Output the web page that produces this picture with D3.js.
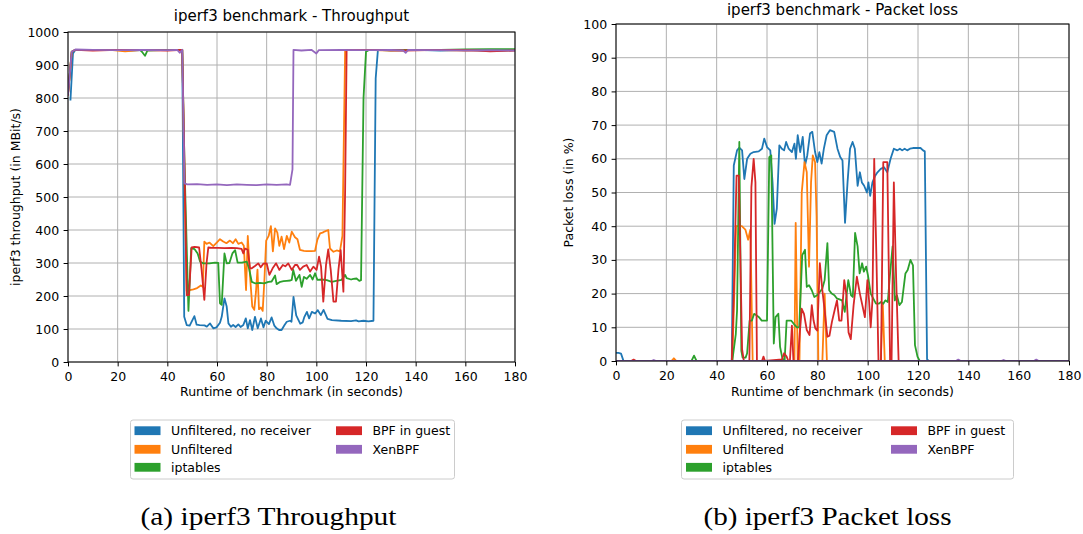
<!DOCTYPE html>
<html><head><meta charset="utf-8">
<script src="https://cdn.jsdelivr.net/npm/d3@7"></script>
<style>
body{margin:0;background:#fff}
svg{display:block}
text{font-family:"DejaVu Sans",sans-serif;fill:#000}
</style>
</head><body>
<svg id="chart" width="1083" height="534"></svg>
<script>
// ---------- data ----------
const seriesNames = ["Unfiltered, no receiver", "Unfiltered", "iptables", "BPF in guest", "XenBPF"];
const seriesColors = ["#1f77b4", "#ff7f0e", "#2ca02c", "#d62728", "#9467bd"];
const xTicks = [0, 20, 40, 60, 80, 100, 120, 140, 160, 180];
const tputTicks = [0, 100, 200, 300, 400, 500, 600, 700, 800, 900, 1000];
const lossTicks = [0, 10, 20, 30, 40, 50, 60, 70, 80, 90, 100];

// Throughput (MBit/s), [seconds, value]
const tputNoRecv = [[1,795],[2,935],[3,946],[10,945],[18,946],[25,944],[33,946],[40,945],[46,946],[46.8,137],[47.8,112],[49,110],[50.9,139],[51.8,113],[53,112],[55,111],[55.9,107],[57.2,117],[58.5,102],[59.8,105],[61.2,119],[61.9,137],[63,193],[63.9,168],[64.6,117],[65.6,107],[66.5,112],[67.5,106],[68.6,114],[69.5,106],[70.6,112],[71.6,132],[72.4,102],[73.3,127],[74.2,97],[75.3,137],[76.4,102],[77.7,132],[78.7,105],[79.6,125],[80.9,115],[82,135],[83.1,110],[84,102],[85,97],[86,97],[87.2,112],[88.1,122],[89.4,125],[90,122],[90.8,197],[91.9,141],[93.5,116],[94.5,120],[95.2,137],[96.2,152],[97.1,132],[98.2,152],[99.5,147],[100.6,157],[101.8,142],[102.9,158],[104.5,131],[106.3,127],[110,125],[114,124],[116,126],[117,123],[119,125],[121,123],[123,125],[123.9,860],[124.8,946],[130,944],[140,946],[150,944],[160,946],[170,943],[180,945]];
const tputUnfiltered = [[0,812],[1.5,940],[3,946],[10,945],[17,946],[23,941],[30,946],[38,945],[46,946],[46.9,560],[47.8,215],[49,218],[50.5,220],[52,224],[53.5,232],[54.3,228],[54.9,365],[55.8,358],[57,362],[58.5,351],[59.9,362],[61.2,372],[62.5,365],[63.8,360],[65.2,368],[66.4,360],[67.5,372],[68.6,358],[69.9,362],[70.8,352],[71.7,218],[72.4,382],[73.3,260],[74.2,168],[75,158],[75.7,213],[76.3,280],[76.9,160],[77.7,165],[78.4,155],[79.1,250],[79.8,368],[80.8,382],[81.7,412],[82.5,335],[83.4,405],[84.3,392],[85.1,352],[86,380],[87,342],[88.1,382],[89.1,362],[90.1,395],[91.4,378],[92.4,372],[93.4,340],[95,337],[96.1,336],[98,336],[99.5,337],[100.4,370],[101.5,390],[102.5,392],[103.5,396],[104.8,400],[105.5,344],[106.9,334],[108.2,338],[109.5,335],[110.5,382],[111.6,946],[113,945],[120,946],[130,944],[140,946],[150,945],[160,944],[170,946],[180,945]];
const tputIptables = [[0,812],[1.5,940],[3,946],[10,945],[20,946],[29,946],[30,938],[31,928],[32,944],[40,946],[46,946],[46.9,600],[48.5,155],[49.6,345],[51,342],[52.2,329],[53.2,304],[54.5,299],[57,299],[59.2,301],[60.5,300],[61.2,178],[61.9,173],[63,329],[63.9,299],[65,300],[66.2,329],[67.3,339],[68.3,301],[70,301],[72,304],[72.9,284],[74,243],[75.5,238],[77.3,240],[79,238],[80.7,243],[82,244],[83.4,262],[84,236],[85.5,243],[86.8,245],[88.1,246],[89.5,247],[90.1,249],[90.7,279],[91.8,246],[93.2,264],[94.1,228],[95,258],[96.1,252],[97.5,264],[98.5,250],[99.5,269],[100.4,249],[102.2,250],[104.2,248],[106.2,243],[108,246],[110.2,249],[111.6,264],[112.2,254],[114,250],[114.9,252],[116.2,253],[117.3,246],[118,248],[119,800],[120,940],[121,945],[130,946],[140,945],[150,946],[160,947],[170,948],[180,948]];
const tputBpfGuest = [[0,810],[1.5,940],[3,946],[10,944],[20,946],[30,945],[40,944],[46,946],[46.9,600],[47.8,203],[48.7,203],[49.8,347],[51,349],[52.8,347],[53.8,279],[54.9,188],[55.8,300],[56.5,347],[58,346],[60.5,346],[63,345],[65.9,346],[68,345],[69.9,343],[70.6,329],[71.3,344],[72.4,340],[73.3,284],[74,284],[75.3,291],[76.6,299],[77.6,287],[78.7,298],[80,299],[81.1,264],[82.4,284],[83.8,299],[85.1,279],[86.5,294],[87.5,290],[88.7,299],[90.1,279],[91.4,294],[92.3,294],[93.4,279],[94.7,289],[96.1,294],[97.5,274],[98.8,289],[100.1,279],[101.1,319],[101.9,289],[102.8,183],[103.9,294],[104.8,341],[105.8,279],[106.9,183],[107.9,183],[108.9,279],[109.8,339],[110.9,213],[111.6,521],[112.2,946],[115,945],[125,946],[135,944],[145,945],[155,946],[165,944],[170,941],[180,944]];
const tputXenBpf = [[0,812],[1.5,940],[3,947],[10,946],[20,945],[30,946],[40,945],[44,946],[45,937],[46,946],[46.9,541],[48,538],[52,539],[56,537],[60,538],[64,536],[68,538],[72,537],[76,536],[80,538],[84,537],[88,538],[89.4,537],[90.4,584],[90.8,946],[94,944],[98,946],[100,935],[101,945],[110,946],[120,945],[130,946],[135,944],[136,937],[137,946],[150,945],[160,944],[170,945],[180,944]];

// Packet loss (%), [seconds, value]
const lossNoRecv = [[0,2.4],[1,2.4],[2,2.2],[3,0],[46,0],[46.8,58],[48.1,62.5],[49,63.3],[50.1,62.5],[51,54],[52.1,60],[53.4,61.5],[54.7,62],[56.7,62.2],[58,63],[58.9,66],[60,63.5],[61.3,62.5],[62.2,53],[63,40.7],[63.9,45.2],[64.9,64],[65.9,63],[66.8,62.5],[67.6,65],[68.6,63],[69.9,62],[70.9,64.5],[71.5,60],[72.2,67],[73.2,62],[74.2,66.5],[75.1,58],[76,61],[77.1,67.5],[78,68],[79.1,62],[80,59],[80.8,62],[81.7,58.6],[82.6,63],[83.7,67],[85,68.5],[86.7,68],[88,63],[89.1,60.5],[90,59.5],[91,41],[92,53],[93,63],[94,65],[94.9,63],[96,52],[96.9,56],[97.7,53],[98.6,52],[99.7,50],[100.3,53],[101,49],[101.9,53],[103,55],[103.9,56],[105.2,57],[106.5,57.5],[107.8,56],[109.1,60],[110.4,63],[111.8,62.5],[112.8,63],[113.7,62.5],[114.7,63],[115.7,62.5],[116.8,63],[118,63.2],[121,63.2],[122,62.5],[122.7,62.2],[123.6,0.5],[124.3,0],[180,0]];
const lossUnfiltered = [[0,0],[22,0],[23,0.8],[24,0],[46.2,0],[47,20],[47.7,40],[50,40],[51.4,39],[52.5,36],[53.4,39],[54.3,0],[70.9,0],[71.4,41],[72.2,0],[72.9,0],[73.8,50],[74.9,59],[75.8,56],[76.7,28],[77.5,53],[78.2,61],[79.1,59],[79.7,43],[80.4,0],[82,0],[82.9,20],[83.8,0],[105.2,0],[106,17],[106.8,0],[180,0]];
const lossIptables = [[0,0],[30,0],[31,1.6],[32,0],[46.2,0],[47.6,8],[48.1,15],[49,65],[49.8,3],[50.3,1],[51.5,1],[52.1,2.3],[53.1,12],[54,12],[54.9,14],[55.8,13.6],[56.8,13],[57.9,12],[60,12],[60.9,60.5],[61.7,61],[62.7,5.2],[63.4,13],[64.5,14],[65.2,4.2],[66.1,0.8],[67,0],[67.8,12],[69.6,12],[71,10.7],[71.9,10],[72.8,10],[74,31.4],[75.1,33],[75.8,22],[76.7,22.5],[77.8,21],[78.8,19],[79.9,19.5],[81,20.5],[82,21.5],[82.9,24],[84,35],[84.7,21],[85.7,20],[86.8,19.5],[87.7,18.6],[88.8,18.3],[89.8,18],[90.9,14.6],[91.6,19.5],[92.3,24],[93.4,19.5],[94.1,19],[95,38],[96,34],[96.8,26],[97.8,29],[98.5,26.5],[99.4,28],[100.1,25.5],[101.2,20],[102.2,18.6],[103.3,17],[104.4,17],[105.3,17.5],[106.2,17],[107,18],[108,17.5],[108.8,25],[109.9,34],[110.8,18],[111.6,19.5],[112.6,16.6],[113.6,17.5],[115,26],[115.9,27],[117,30],[118,28.4],[118.8,4.7],[119.8,1.3],[120.7,0],[180,0]];
const lossBpfGuest = [[0,0],[6,0],[7,0.4],[8,0],[46,0],[46.8,20],[47.9,55],[48.8,55],[50.1,3.5],[50.8,0],[53,0],[53.8,51.6],[54.7,60],[55.4,53],[56,0],[58,0],[58.6,1.3],[59.2,0],[66,0.5],[66.8,2.3],[67.8,1.3],[68.5,0],[69.1,0],[69.9,10.5],[70.5,0],[72.3,0],[73,8],[73.8,15.5],[74.7,14],[75.8,9.2],[76.9,7.7],[77.8,16.6],[78.5,12],[79.2,9.7],[80,9],[81,29],[82,21],[82.9,15],[84,7.2],[84.8,7.5],[85.8,11.6],[87,15.5],[87.8,18],[88.7,12],[89.6,12],[90.7,24],[91.6,19.4],[92.4,8.5],[93.3,6.5],[94.4,16.5],[95.7,25],[96.9,20],[97.9,16.5],[98.9,13],[99.9,24],[100.6,17.5],[101.2,10],[101.9,18],[102.6,60],[103.5,30],[104.3,0],[105.3,0],[106.2,59],[107.8,59],[108.9,0],[109.5,0],[110.4,53],[111.3,25],[112.3,0],[180,0]];
const lossXenBpf = [[0,0],[14,0],[15,0.3],[16,0],[135,0],[136,0.4],[137,0],[153,0],[154,0.3],[155,0],[166,0],[167,0.4],[168,0],[180,0]];

// ---------- drawing ----------
const svg = d3.select("#chart");

function drawPanel(cfg) {
  const x = d3.scaleLinear().domain([0, 180]).range([cfg.x0, cfg.x1]);
  const y = d3.scaleLinear().domain([0, cfg.yMax]).range([cfg.y0, cfg.y1]);
  const g = svg.append("g");
  const clipId = "clip" + cfg.id;
  svg.append("clipPath").attr("id", clipId).append("rect")
    .attr("x", cfg.x0).attr("y", cfg.y1).attr("width", cfg.x1 - cfg.x0).attr("height", cfg.y0 - cfg.y1);

  // grid
  g.selectAll(".vg").data(xTicks).join("line")
    .attr("x1", d => x(d)).attr("x2", d => x(d)).attr("y1", cfg.y0).attr("y2", cfg.y1)
    .attr("stroke", "#b0b0b0").attr("stroke-width", 1);
  g.selectAll(".hg").data(cfg.yTicks).join("line")
    .attr("y1", d => y(d)).attr("y2", d => y(d)).attr("x1", cfg.x0).attr("x2", cfg.x1)
    .attr("stroke", "#b0b0b0").attr("stroke-width", 1);

  // lines
  const line = d3.line().x(d => x(d[0])).y(d => y(d[1]));
  const lg = g.append("g").attr("clip-path", `url(#${clipId})`);
  cfg.series.forEach((s, i) => {
    lg.append("path").attr("d", line(s)).attr("fill", "none")
      .attr("stroke", seriesColors[i]).attr("stroke-width", 1.8)
      .attr("stroke-linejoin", "round").attr("stroke-linecap", "square");
  });

  // axes
  const xa = g.append("g").attr("transform", `translate(0,${cfg.y0})`)
    .call(d3.axisBottom(x).tickValues(xTicks).tickSize(4.4).tickPadding(5.5).tickFormat(d3.format("d")));
  const ya = g.append("g").attr("transform", `translate(${cfg.x0},0)`)
    .call(d3.axisLeft(y).tickValues(cfg.yTicks).tickSize(4.4).tickPadding(4.4).tickFormat(d3.format("d")));
  [xa, ya].forEach(a => {
    a.select(".domain").remove();
    a.selectAll("line").attr("stroke", "#000").attr("stroke-width", 1);
    a.selectAll("text").attr("font-size", "12.5px").attr("font-family", "DejaVu Sans").attr("fill", "#000");
  });

  // frame
  g.append("rect").attr("x", cfg.x0).attr("y", cfg.y1)
    .attr("width", cfg.x1 - cfg.x0).attr("height", cfg.y0 - cfg.y1)
    .attr("fill", "none").attr("stroke", "#000").attr("stroke-width", 1);

  // labels
  const cx = (cfg.x0 + cfg.x1) / 2;
  g.append("text").attr("x", cx).attr("y", cfg.titleY).attr("text-anchor", "middle")
    .attr("font-size", "15px").text(cfg.title);
  g.append("text").attr("x", cx).attr("y", 396).attr("text-anchor", "middle")
    .attr("font-size", "12.5px").text("Runtime of benchmark (in seconds)");
  g.append("text").attr("transform", `translate(${cfg.ylabelX},${(cfg.y0 + cfg.y1) / 2}) rotate(-90)`)
    .attr("text-anchor", "middle").attr("font-size", "12.5px").text(cfg.ylabel);

  // legend
  const L = cfg.legend;
  const lgd = g.append("g");
  lgd.append("rect").attr("x", L.x).attr("y", 420).attr("width", L.w).attr("height", 59)
    .attr("rx", 2.5).attr("fill", "#fff").attr("stroke", "#cccccc").attr("stroke-width", 1);
  const rows = [430.7, 449.3, 467.3];
  seriesNames.forEach((name, i) => {
    const col = i < 3 ? 0 : 1;
    const row = i < 3 ? i : i - 3;
    const sx = col === 0 ? L.sx1 : L.sx2;
    lgd.append("rect").attr("x", sx).attr("y", rows[row] - 4.4).attr("width", 26).attr("height", 8.8)
      .attr("fill", seriesColors[i]);
    lgd.append("text").attr("x", sx + 36.5).attr("y", rows[row] + 4.4)
      .attr("font-size", "12.5px").text(name);
  });

  // caption
  svg.append("text").attr("x", cfg.capX).attr("y", 525)
    .attr("font-family", "Liberation Serif, serif").style("font-family", "'Liberation Serif', serif")
    .attr("font-size", "26px").attr("textLength", cfg.capW).attr("lengthAdjust", "spacingAndGlyphs")
    .text(cfg.caption);
}

drawPanel({
  id: "a", x0: 68, x1: 515, y0: 362, y1: 32, yMax: 1000, yTicks: tputTicks,
  series: [tputNoRecv, tputUnfiltered, tputIptables, tputBpfGuest, tputXenBpf],
  title: "iperf3 benchmark - Throughput", titleY: 21,
  ylabel: "iperf3 throughput (in MBit/s)", ylabelX: 19.5,
  legend: { x: 130.5, w: 324, sx1: 134.5, sx2: 336 },
  caption: "(a) iperf3 Throughput", capX: 140.5, capW: 256
});
drawPanel({
  id: "b", x0: 616, x1: 1069, y0: 361, y1: 24, yMax: 100, yTicks: lossTicks,
  series: [lossNoRecv, lossUnfiltered, lossIptables, lossBpfGuest, lossXenBpf],
  title: "iperf3 benchmark - Packet loss", titleY: 14.5,
  ylabel: "Packet loss (in %)", ylabelX: 573,
  legend: { x: 681.5, w: 332, sx1: 686, sx2: 891 },
  caption: "(b) iperf3 Packet loss", capX: 703.5, capW: 248
});
</script>
</body></html>
